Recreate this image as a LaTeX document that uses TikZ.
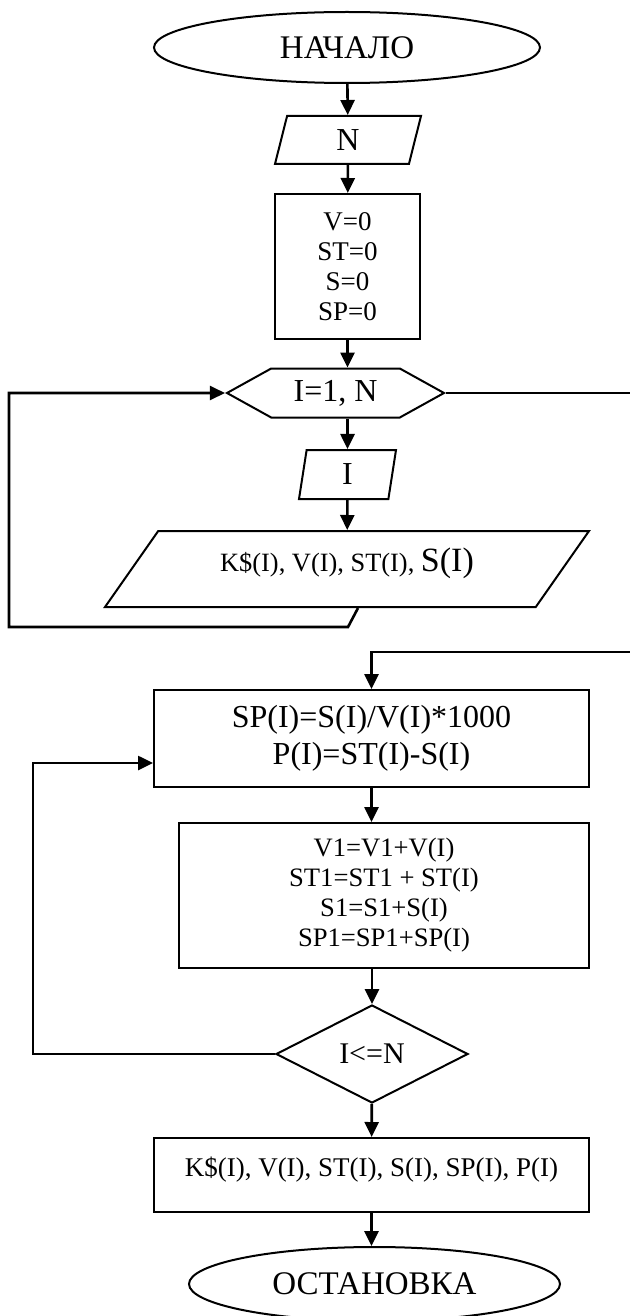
\documentclass[tikz,border=0pt]{standalone}
\usepackage{fontspec}
\setmainfont{Liberation Serif}
\usepackage{tikz}
\usetikzlibrary{arrows.meta,shapes.geometric,shapes.symbols}

\tikzset{
  box/.style={draw,line width=1pt,inner sep=0pt,align=center},
  term/.style={box,ellipse,font=\fontsize{16.5}{19}\selectfont},
  io/.style={box,trapezium,trapezium stretches body},
  proc/.style={box,rectangle},
  flow/.style={line width=1.3pt,-{Triangle[length=7.5pt,width=7pt]}},
  wire/.style={line width=1.2pt}
}

\begin{document}
\begin{tikzpicture}[x=0.5pt,y=-0.5pt]
  \useasboundingbox (0,0) rectangle (630,1316);

  % input part
  \node[term,minimum width=193pt,minimum height=35.5pt] (start) at (347,47.5) {НАЧАЛО};
  \node[io,trapezium left angle=60,trapezium right angle=120,
        minimum width=73pt,minimum height=24pt,
        font=\fontsize{16}{18}\selectfont] (inN) at (348,140) {N};
  \node[proc,minimum width=72.5pt,minimum height=72.5pt,
        font=\fontsize{13.5}{15}\selectfont] (init) at (347.5,266.5)
        {V=0\\ST=0\\S=0\\SP=0};
  \node[box,signal,signal to=east and west,signal pointer angle=58,
        minimum width=108.5pt,minimum height=24.5pt,
        font=\fontsize{16}{18}\selectfont] (cyc) at (335.5,393) {I=1, N};
  \node[io,trapezium left angle=70,trapezium right angle=110,
        minimum width=48.5pt,minimum height=24.5pt,
        font=\fontsize{16}{18}\selectfont] (inI) at (347.5,474.5) {I};
  \node[io,trapezium left angle=38,trapezium right angle=142,
        minimum width=242pt,minimum height=38pt,text depth=9pt,
        font=\fontsize{13.2}{15}\selectfont] (data) at (347,569)
        {K\$(I), V(I), ST(I), {\fontsize{17}{19}\selectfont S(I)}};

  % calculation part
  \node[proc,minimum width=217.5pt,minimum height=48.5pt,
        font=\fontsize{16}{18.5}\selectfont] (calc) at (371.5,738.5)
        {SP(I)=S(I)/V(I)*1000\\P(I)=ST(I)-S(I)};
  \node[proc,minimum width=205pt,minimum height=72.5pt,
        font=\fontsize{13.3}{15}\selectfont] (acc) at (384,895.5)
        {V1=V1+V(I)\\ST1=ST1 + ST(I)\\S1=S1+S(I)\\SP1=SP1+SP(I)};
  \node[box,diamond,aspect=1.96,minimum width=96pt,minimum height=49pt,
        font=\fontsize{15}{18}\selectfont] (chk) at (372,1054) {I<=N};
  \node[proc,minimum width=217.5pt,minimum height=37pt,text depth=8pt,
        font=\fontsize{13.5}{16}\selectfont] (out) at (371.5,1175)
        {K\$(I), V(I), ST(I), S(I), SP(I), P(I)};
  \node[term,minimum width=185.5pt,minimum height=37pt] (stop) at (374.5,1284) {ОСТАНОВКА};

  \coordinate (lp1) at (348,627);
  \coordinate (lp2) at (9,627);
  \coordinate (edgeA) at (630,393);
  \coordinate (edgeB) at (630,652);
  \coordinate (back) at (33,763);

  \draw[flow] (start) -- (inN);
  \draw[flow] (inN) -- (init);
  \draw[flow] (init) -- (init |- cyc.north);
  \draw[flow] (cyc.south -| inI.north) -- (inI);
  \draw[flow] (inI) -- (data);
  \draw[flow] ([xshift=5.5pt]data.south) -- (lp1) -- (lp2) |- (cyc.west);
  \draw[wire] (cyc.east) -- (edgeA);
  \draw[flow] (edgeB) -| (calc.north);
  \draw[flow] (calc.south) -- (calc.south |- acc.north);
  \draw[flow] (acc.south -| chk.north) -- (chk.north);
  \draw[flow] (chk) -- (out);
  \draw[flow] (chk.west) -| (back) -- (back -| calc.west);
  \draw[flow] (out.south) -- (out.south |- stop.north);
\end{tikzpicture}
\end{document}
